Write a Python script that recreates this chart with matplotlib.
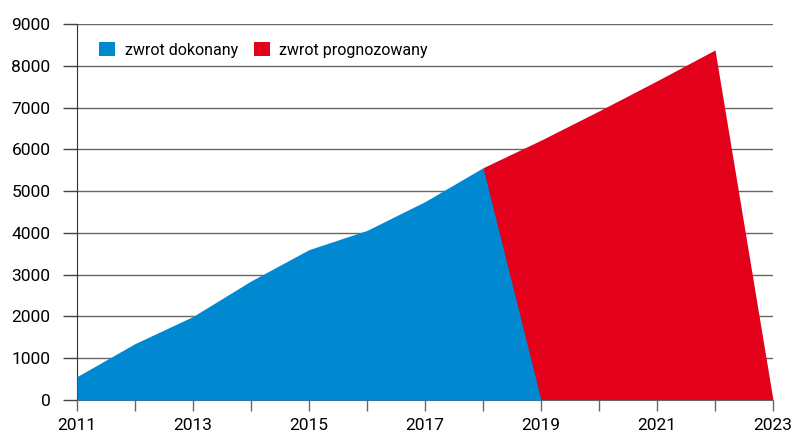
import matplotlib.pyplot as plt
import numpy as np

plt.rcParams['font.family'] = ['Roboto', 'DejaVu Sans']

BLUE = '#0088d1'
RED = '#e2001a'

years_done = [2011, 2012, 2013, 2014, 2015, 2016, 2017, 2018, 2019]
values_done = [560, 1350, 2000, 2850, 3600, 4060, 4750, 5560, 0]

years_forecast = [2018, 2019, 2020, 2021, 2022, 2023]
values_forecast = [5560, 6220, 6920, 7640, 8380, 0]

year_ticks = list(range(2011, 2024))
year_labels = [str(y) if y % 2 == 1 else '' for y in year_ticks]
y_ticks = list(range(0, 9001, 1000))

fig = plt.figure(figsize=(8, 4.46), dpi=100)
ax = fig.add_axes([0.09625, 0.1031, 0.87, 0.843])

ax.fill_between(years_forecast, values_forecast, 0, color=RED, linewidth=0,
                label='zwrot prognozowany', zorder=2)
ax.fill_between(years_done, values_done, 0, color=BLUE, linewidth=0,
                label='zwrot dokonany', zorder=3)

ax.set_xlim(2011, 2023)
ax.set_ylim(0, 9000)
ax.set_xticks(year_ticks)
ax.set_xticklabels(year_labels, fontsize=12.5)
ax.set_yticks(y_ticks)
ax.set_yticklabels([str(v) for v in y_ticks], fontsize=12.5)

ax.grid(axis='y', color='#666666', linewidth=1, zorder=0)
ax.set_axisbelow(True)
ax.tick_params(axis='y', length=10, width=1, color='#444444', pad=9)
ax.tick_params(axis='x', length=8, width=1, color='#666666', pad=5)

for s in ['top', 'right']:
    ax.spines[s].set_visible(False)
ax.spines['left'].set_color('#333333')
ax.spines['bottom'].set_color('#666666')

handles, labels = ax.get_legend_handles_labels()
ax.legend(handles[::-1], labels[::-1], loc='upper left', ncol=2, frameon=False,
          fontsize=11.5, handlelength=1.0, handleheight=1.0, handletextpad=0.6,
          columnspacing=1.0, bbox_to_anchor=(0.011, 0.99))

fig.savefig('out.png', dpi=100)
